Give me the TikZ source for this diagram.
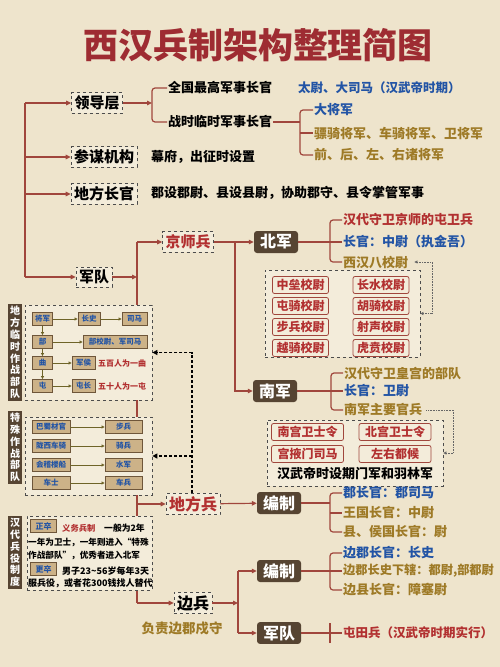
\documentclass[tikz,border=0pt]{standalone}
\usepackage{fontspec}
\setmainfont{Noto Sans CJK SC}
\usetikzlibrary{arrows.meta}
\definecolor{bgc}{RGB}{238,228,204}
\definecolor{ttlc}{RGB}{158,44,50}
\definecolor{lnc}{RGB}{160,70,60}
\definecolor{dkb}{RGB}{86,68,50}
\definecolor{gld}{RGB}{158,122,38}
\definecolor{blu}{RGB}{34,84,165}
\definecolor{rdt}{RGB}{178,48,48}
\definecolor{tanf}{RGB}{204,178,136}
\definecolor{tanb}{RGB}{110,86,58}
\definecolor{dbx}{RGB}{243,236,218}
\definecolor{olv}{RGB}{110,100,40}
\newcommand{\fs}[1]{\fontsize{#1}{#1}\selectfont}

\begin{document}
\begin{tikzpicture}[x=1pt,y=-1pt,font=\bfseries,
  ln/.style={draw=lnc,line width=1.2pt},
  arr/.style={ln,-{Triangle[length=5pt,width=4.5pt]}},
  dbox/.style={draw=black!70,dashed,fill=dbx,line width=.7pt},
  lbox/.style={dbox,inner sep=3pt,font=\bfseries\fs{15}},
  dark/.style={fill=dkb,rounded corners=3pt,text=white,minimum height=22,inner xsep=6pt,font=\bfseries\fs{16}},
  txt/.style={anchor=west,inner sep=1pt,font=\bfseries\fs{13}},
  rbox/.style={draw=lnc,rounded corners=2pt,fill=dbx,text=rdt,line width=.8pt,minimum height=17,inner sep=1pt,font=\bfseries\fs{12}},
  sbox/.style={draw=tanb,fill=tanf,text=blu,minimum height=13,inner sep=1pt,line width=.8pt,font=\bfseries\fs{7.5}},
  vlab/.style={fill=dkb,text=white,inner sep=2pt,align=center,font=\bfseries\fontsize{10}{11.8}\selectfont},
  sarr/.style={draw=olv,line width=.8pt,-{Triangle[length=3pt,width=3pt]}},
  dsh/.style={draw=black,line width=1.3pt,dash pattern=on 3pt off 2pt,-{Triangle[length=5pt,width=5pt]}},
  dotln/.style={draw=black!60,line width=.6pt,densely dotted}]
\fill[bgc] (0,0) rectangle (500,667);
\useasboundingbox (0,0) rectangle (500,667);

\node (ttl) at (258,45) [text=ttlc,font=\bfseries\fs{35}] {西汉兵制架构整理简图};

% main branches
\path (97,103) node(ld)[lbox]{领导层}
  (104,157) node(cm)[lbox]{参谋机构}
  (104,194) node(df)[lbox]{地方长官}
  (94,277) node(jd)[lbox]{军队};
\coordinate (t0) at (25,103);
\coordinate (t3) at (25,277);
\draw[ln] (t0) -- (t3);
\draw[arr] (t0) -- (ld);
\draw[arr] (t0 |- cm) -- (cm);
\draw[arr] (t0 |- df) -- (df);
\draw[arr] (t3) -- (jd);

% leaders
\coordinate (jl) at (152,103);
\path (167,88) node(q1)[txt]{全国最高军事长官}
  (167,122) node(q2)[txt]{战时临时军事长官}
  (297,88) node(q3)[txt,text=blu,font=\bfseries\fs{12.5}]{太尉、大司马（汉武帝时期）};
\draw[arr] (ld) -- (jl);
\draw[ln,rounded corners=3pt] (q1.west) -| (jl) |- (q2.west);
\coordinate (jw) at (300,122);
\path (313,110) node(w1)[txt,text=blu]{大将军}
  (313,133) node(w2)[txt,text=gld]{骠骑将军、车骑将军、卫将军}
  (313,155) node(w3)[txt,text=gld]{前、后、左、右诸将军};
\draw[ln] (q2.east) -- (jw);
\draw[ln,rounded corners=3pt] (w1.west) -| (jw) |- (w3.west);
\draw[ln] (w2.west -| jw) -- (w2.west);

\node (c1) at (150,157) [txt] {幕府，出征时设置};
\node (d1) at (150,193) [txt] {郡设郡尉、县设县尉，协助郡守、县令掌管军事};

% army trunk
\coordinate (jv) at (137,277);
\coordinate (jv1) at (137,242);
\coordinate (jv2) at (137,504);
\coordinate (jv3) at (137,603);
\draw[ln] (jv1) -- (jv3);
\draw[arr] (jd) -- (jv);

% capital troops
\path (188,242) node(jsb)[lbox,text=rdt]{京师兵}
  (276,242) node(bj)[dark]{北军}
  (275,391) node(nj)[dark]{南军};
\coordinate (jk) at (235,242);
\draw[arr] (jv1) -- (jsb);
\draw[arr] (jsb) -- (bj);
\draw[arr] (jk) |- (nj);

\coordinate (jb) at (330,242);
\path (342,220) node(b1)[txt,text=rdt]{汉代守卫京师的屯卫兵}
  (342,242) node(b2)[txt,text=blu]{长官：中尉（执金吾）}
  (342,262) node(b3)[txt,text=gld]{西汉八校尉};
\draw[ln] (bj) -- (jb);
\draw[ln,rounded corners=3pt] (b1.west) -| (jb) |- (b3.west);
\draw[ln] (jb) -- (b2.west);

\node (xb) at (342.5,313.5) [dbox,minimum width=155,minimum height=87] {};
\path (300.5,285) node(x1)[rbox,minimum width=56]{中垒校尉}
  (300.5,306) node(x2)[rbox,minimum width=56]{屯骑校尉}
  (300.5,327) node(x3)[rbox,minimum width=56]{步兵校尉}
  (300.5,348) node(x4)[rbox,minimum width=56]{越骑校尉}
  (381,285) node(x5)[rbox,minimum width=56]{长水校尉}
  (381,306) node(x6)[rbox,minimum width=56]{胡骑校尉}
  (381,327) node(x7)[rbox,minimum width=56]{射声校尉}
  (381,348) node(x8)[rbox,minimum width=56]{虎贲校尉};
\draw[dotln,{Triangle[length=3pt,width=3pt]}-{Triangle[length=3pt,width=3pt]}] ([xshift=5]b3.east) -| ([xshift=12]xb.east) -- (xb.east);

\coordinate (jn) at (331,391);
\path (343,373) node(n1)[txt,text=gld]{汉代守卫皇宫的部队}
  (343,391) node(n2)[txt,text=blu]{长官：卫尉}
  (343,410) node(n3)[txt,text=gld]{南军主要官兵};
\draw[ln] (nj) -- (jn);
\draw[ln,rounded corners=3pt] (n1.west) -| (jn) |- (n3.west);
\draw[ln] (jn) -- (n2.west);

\node (nb) at (355,453) [dbox,minimum width=176,minimum height=66] {};
\path (307.5,432) node(y1)[rbox,minimum width=72]{南宫卫士令}
  (395,432) node(y2)[rbox,minimum width=72]{北宫卫士令}
  (307.5,454) node(y3)[rbox,minimum width=72]{宫掖门司马}
  (395,454) node(y4)[rbox,minimum width=72]{左右都候}
  (355,474) node(y5)[inner sep=1pt,font=\bfseries\fs{13}]{汉武帝时设期门军和羽林军};
\draw[dotln,-{Triangle[length=3pt,width=3pt]}] ([xshift=3]n3.east) -| ([xshift=10]nb.east) -- (nb.east);

% local troops
\path (193,504) node(dfb)[lbox,text=rdt,font=\bfseries\fs{16}]{地方兵}
  (279,503) node(bz1)[dark]{编制};
\draw[arr] (jv2) -- (dfb);
\draw[arr] (dfb) -- (bz1);
\coordinate (jz1) at (330,503);
\path (342,493) node(z1)[txt,text=blu]{郡长官：郡司马}
  (342,513) node(z2)[txt,text=gld]{王国长官：中尉}
  (342,532) node(z3)[txt,text=gld]{县、侯国长官：尉};
\draw[ln] (bz1) -- (jz1);
\draw[ln,rounded corners=3pt] (z1.west) -| (jz1) |- (z3.west);
\draw[ln] (z2.west -| jz1) -- (z2.west);

% temporary combat units
\node (lab1) at (15,352.5) [vlab] {地\\方\\临\\时\\作\\战\\部\\队};
\node (lsb) at (88.5,352.5) [dbox,minimum width=127,minimum height=95] {};
\path (42.5,319) node(a1)[sbox,minimum width=20]{将军}
  (89,319) node(a2)[sbox,minimum width=22]{长史}
  (134.5,319) node(a3)[sbox,minimum width=25]{司马}
  (42.5,342) node(a4)[sbox,minimum width=20]{部}
  (115,342) node(a5)[sbox,minimum width=64]{部校尉、军司马}
  (42.5,363) node(a6)[sbox,minimum width=20]{曲}
  (83.5,363) node(a7)[sbox,minimum width=23]{军侯}
  (122,363) node(a8)[inner sep=0pt,text=rdt,font=\bfseries\fs{8}]{五百人为一曲}
  (42.5,386) node(a9)[sbox,minimum width=20]{屯}
  (83.5,386) node(a10)[sbox,minimum width=23]{屯长}
  (122,386) node(a11)[inner sep=0pt,text=rdt,font=\bfseries\fs{8}]{五十人为一屯};
\draw[sarr] (a1) -- (a2);
\draw[sarr] (a2) -- (a3);
\draw[sarr] (a1) -- (a4);
\draw[sarr] (a4) -- (a6);
\draw[sarr] (a6) -- (a9);
\draw[sarr] (a4) -- (a5);
\draw[sarr] (a6) -- (a7);
\draw[sarr] (a9) -- (a10);

% special combat units
\node (lab2) at (15,447.5) [vlab] {特\\殊\\作\\战\\部\\队};
\node (tsb) at (88.5,456) [dbox,minimum width=127,minimum height=78] {};
\path (51,427) node(e1)[sbox,minimum width=38]{巴蜀材官}
  (51,446) node(e2)[sbox,minimum width=38]{陇西车骑}
  (51,465) node(e3)[sbox,minimum width=38]{会稽楼船}
  (51,483) node(e4)[sbox,minimum width=38]{车士}
  (123.5,427) node(f1)[sbox,minimum width=37]{步兵}
  (123.5,446) node(f2)[sbox,minimum width=37]{骑兵}
  (123.5,465) node(f3)[sbox,minimum width=37]{水军}
  (123.5,483) node(f4)[sbox,minimum width=37]{车兵};
\draw[sarr] (e1) -- (f1);
\draw[sarr] (e2) -- (f2);
\draw[sarr] (e3) -- (f3);
\draw[sarr] (e4) -- (f4);

\coordinate (jd1) at (192,456);
\draw[dsh] (dfb.north -| jd1) |- (lsb.east);
\draw[dsh] (jd1) -- (tsb.east);

% military service
\node (lab3) at (15,552.5) [vlab] {汉\\代\\兵\\役\\制\\度};
\node (hb) at (89.5,553) [dbox,minimum width=125,minimum height=74] {};
\path (43.5,526) node(g1)[sbox,minimum width=26,font=\bfseries\fs{8}]{正卒}
  (62,528) node(g2)[anchor=west,inner sep=0pt,text=rdt,font=\bfseries\fs{8.3}]{义务兵制}
  (104,528) node(g3)[anchor=west,inner sep=0pt,font=\bfseries\fs{8.8}]{一般为2年}
  (28,542) node(g4)[anchor=west,inner sep=0pt,font=\bfseries\fs{8.6}]{一年为卫士，一年则进入“特殊}
  (28,555) node(g5)[anchor=west,inner sep=0pt,font=\bfseries\fs{8.6}]{作战部队”，优秀者进入北军}
  (43.5,569) node(g6)[sbox,minimum width=26,font=\bfseries\fs{8}]{更卒}
  (62,571) node(g7)[anchor=west,inner sep=0pt,font=\bfseries\fs{9}]{男子23\textasciitilde 56岁每年3天}
  (28,583) node(g8)[anchor=west,inner sep=0pt,font=\bfseries\fs{9}]{服兵役，或者花300钱找人替代};

% frontier troops
\path (193,603) node(bb)[lbox,font=\bfseries\fs{16}]{边兵}
  (182,628) node(bb2)[text=gld,font=\bfseries\fs{13.5}]{负责边郡戍守}
  (279,571) node(bz2)[dark]{编制}
  (279,633) node(jd2)[dark,minimum height=20]{军队};
\coordinate (je) at (238,603);
\draw[arr] (jv3) -- (bb);
\draw[ln] (je |- bz2) -- (je |- jd2);
\draw[arr] (bb) -- (je);
\draw[arr] (je |- bz2) -- (bz2);
\draw[arr] (je |- jd2) -- (jd2);

\coordinate (jz2) at (330,571);
\path (342,553) node(u1)[txt,text=blu]{边郡长官：长史}
  (342,571) node(u2)[txt,text=gld,font=\bfseries\fs{12.2}]{边郡长史下辖：都尉,部都尉}
  (342,590) node(u3)[txt,text=gld]{边县长官：障塞尉};
\draw[ln] (bz2) -- (jz2);
\draw[ln,rounded corners=3pt] (u1.west) -| (jz2) |- (u3.west);
\draw[ln] (jz2) -- (u2.west);

\coordinate (jt) at (330,633);
\node (r1) at (342,633) [txt,text=rdt,font=\bfseries\fs{12.5}] {屯田兵（汉武帝时期实行）};
\draw[ln] (jd2) -- (r1);
\draw[ln] ([yshift=-10]jt) -- ([yshift=10]jt);
\end{tikzpicture}
\end{document}
